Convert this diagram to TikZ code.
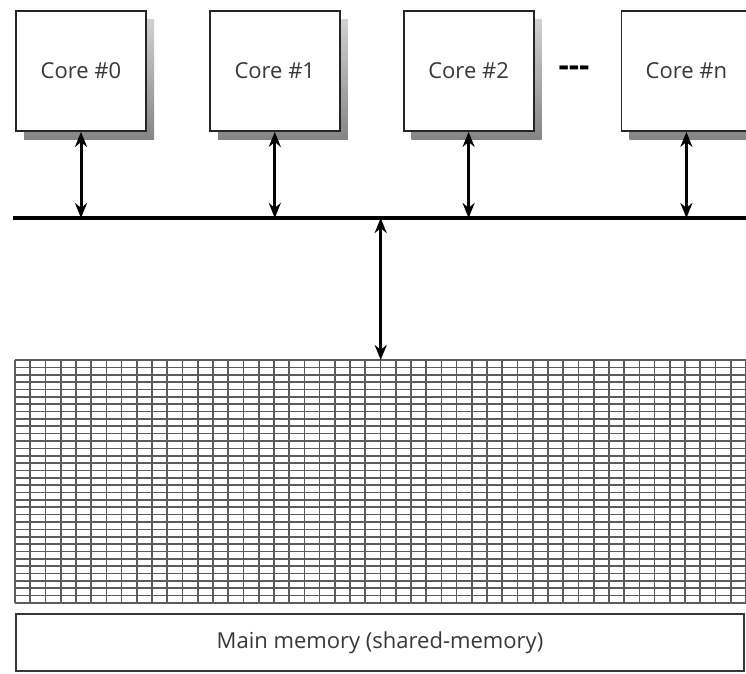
\documentclass[tikz,border=0pt]{standalone}
\usepackage{fontspec}
\setmainfont{Open Sans}
\usetikzlibrary{arrows.meta, positioning, shadows, calc}

\begin{document}
\begin{tikzpicture}[
    x=1pt, y=-1pt,
    font=\fontsize{22}{26}\selectfont,
    core/.style={draw=black!85, line width=1.8pt, fill=white, minimum width=130pt, minimum height=120pt, inner sep=0pt, text=black!78,
        general shadow={shadow xshift=8pt, shadow yshift=-8pt, top color=black!18, bottom color=black!48}},
    link/.style={{Stealth[length=15pt, width=12pt]}-{Stealth[length=15pt, width=12pt]}, line width=3pt},
    bus/.style={line width=3.2pt},
    gridline/.style={draw=black!64, line width=1.7pt},
    membox/.style={draw=black!78, line width=1.8pt, minimum width=728pt, minimum height=57pt, inner sep=0pt, text=black!78}
]
    \useasboundingbox (0,0) rectangle (746,673);

    % Cores
    \node[core] (core0) at (81,71) {Core \#0};
    \node[core, right=62pt of core0] (core1) {Core \#1};
    \node[core, right=62pt of core1] (core2) {Core \#2};
    \node[core, right=86pt of core2] (coren) {Core \#n};
    \node[font=\fontsize{32}{32}\bfseries\selectfont, inner sep=0pt] (dots) at (574,71) {-{}-{}-};

    % Bus
    \coordinate (busL) at (13,218);
    \coordinate (busR) at (746,218);
    \draw[bus] (busL) -- (busR);

    % Core links
    \foreach \c in {core0, core1, core2, coren}
        \draw[link] (\c.south) -- (\c.south |- busL);

    % Memory cells
    \node[minimum width=731pt, minimum height=243pt, inner sep=0pt, anchor=north west] (cells) at (15,360) {};
    \foreach \i in {0,...,33}
        \draw[gridline] ($(cells.north west)+(0,\i*7.3636)$) -- ($(cells.north east)+(0,\i*7.3636)$);
    \foreach \j in {0,...,48}
        \draw[gridline] ($(cells.north west)+(\j*15.229,0)$) -- ($(cells.south west)+(\j*15.229,0)$);
    \draw[link] (cells.north |- busL) -- (cells.north);

    % Main memory
    \node[membox] (mainmem) at (380,642.5) {Main memory (shared-memory)};

\end{tikzpicture}
\end{document}
